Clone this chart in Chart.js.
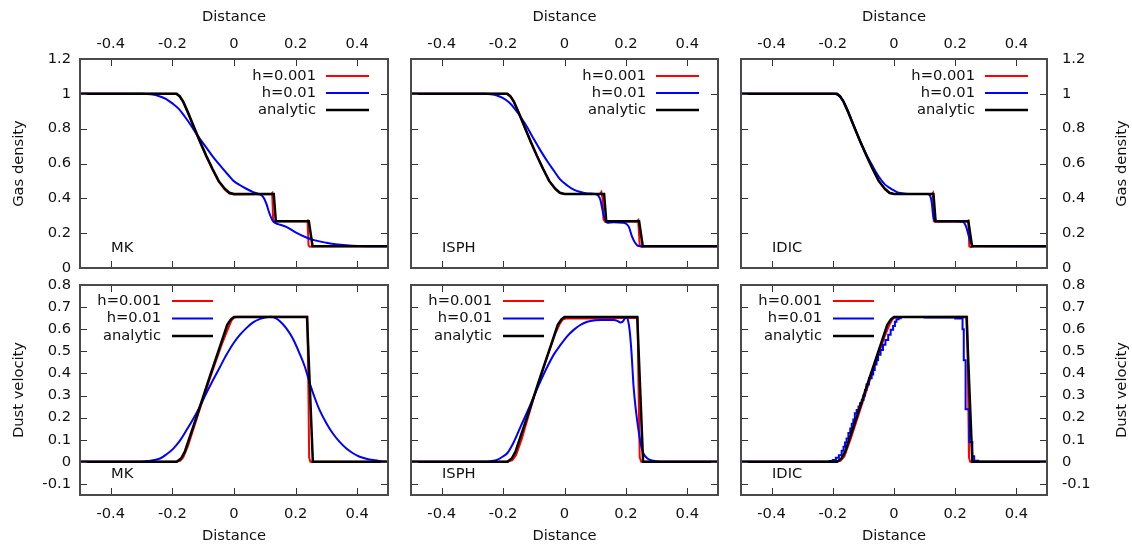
<!DOCTYPE html>
<html>
<head>
<meta charset="utf-8">
<script src="https://cdn.jsdelivr.net/npm/chart.js@4.4.1/dist/chart.umd.min.js"></script>
<style>
  body { margin: 0; background: #fff; overflow: hidden; width: 1132px; height: 545px; }
  canvas { position: absolute; }
</style>
</head>
<body>
<canvas id="p00" width="400" height="272" style="left:0;top:0"></canvas>
<canvas id="p01" width="330" height="272" style="left:400px;top:0"></canvas>
<canvas id="p02" width="402" height="272" style="left:730px;top:0"></canvas>
<canvas id="p10" width="400" height="273" style="left:0;top:272px"></canvas>
<canvas id="p11" width="330" height="273" style="left:400px;top:272px"></canvas>
<canvas id="p12" width="402" height="273" style="left:730px;top:272px"></canvas>
<script>
// tick labels
const xTicks = [-0.4, -0.2, 0, 0.2, 0.4];
const densTicks = [0, 0.2, 0.4, 0.6, 0.8, 1, 1.2];
const velTicks = [-0.1, 0, 0.1, 0.2, 0.3, 0.4, 0.5, 0.6, 0.7, 0.8];
const seriesNames = ['h=0.001', 'h=0.01', 'analytic'];
const methods = ['MK', 'ISPH', 'IDIC'];

// gas density - analytic
const densAnaX = [-0.5, -0.186, -0.176, -0.165, -0.15, -0.13, -0.11, -0.09, -0.07, -0.05, -0.03, -0.015, 0, 0.129, 0.136, 0.243, 0.255, 0.5];
const densAnaY = [1, 1, 0.985, 0.955, 0.895, 0.81, 0.725, 0.645, 0.57, 0.5, 0.455, 0.432, 0.425, 0.425, 0.268, 0.268, 0.125, 0.125];

// gas density - MK
const mkDensRedX = [-0.5, -0.19, -0.178, -0.165, -0.15, -0.13, -0.11, -0.09, -0.07, -0.05, -0.03, -0.015, 0, 0.121, 0.124, 0.127, 0.131, 0.236, 0.239, 0.242, 0.246, 0.26, 0.5];
const mkDensRedY = [1, 1, 0.99, 0.955, 0.895, 0.805, 0.72, 0.64, 0.565, 0.497, 0.45, 0.428, 0.422, 0.425, 0.43, 0.28, 0.268, 0.268, 0.272, 0.13, 0.122, 0.125, 0.125];
const mkDensBlueX = [-0.5, -0.3, -0.27, -0.24, -0.22, -0.2, -0.18, -0.16, -0.14, -0.122, -0.1, -0.08, -0.068, -0.04, -0.02, -0.003, 0.02, 0.04, 0.062, 0.08, 0.094, 0.105, 0.112, 0.118, 0.126, 0.135, 0.15, 0.17, 0.2, 0.235, 0.26, 0.3, 0.33, 0.365, 0.43, 0.5];
const mkDensBlueY = [1, 1, 0.997, 0.985, 0.97, 0.945, 0.915, 0.87, 0.82, 0.77, 0.716, 0.667, 0.638, 0.578, 0.537, 0.503, 0.475, 0.455, 0.436, 0.425, 0.41, 0.37, 0.33, 0.3, 0.27, 0.258, 0.248, 0.236, 0.205, 0.175, 0.16, 0.145, 0.136, 0.13, 0.125, 0.125];

// gas density - ISPH
const isDensRedX = [-0.5, -0.19, -0.178, -0.165, -0.15, -0.13, -0.11, -0.09, -0.07, -0.05, -0.03, -0.015, 0, 0.115, 0.12, 0.124, 0.127, 0.132, 0.236, 0.24, 0.245, 0.25, 0.26, 0.5];
const isDensRedY = [1, 1, 0.99, 0.955, 0.895, 0.81, 0.725, 0.645, 0.57, 0.5, 0.452, 0.43, 0.425, 0.425, 0.437, 0.4, 0.28, 0.265, 0.268, 0.275, 0.13, 0.122, 0.125, 0.125];
const isDensBlueX = [-0.5, -0.26, -0.24, -0.22, -0.2, -0.18, -0.16, -0.14, -0.121, -0.1, -0.078, -0.055, -0.035, -0.015, 0.009, 0.03, 0.052, 0.075, 0.1, 0.11, 0.117, 0.123, 0.128, 0.135, 0.139, 0.16, 0.19, 0.2, 0.21, 0.22, 0.23, 0.241, 0.26, 0.5];
const isDensBlueY = [1, 1, 0.997, 0.99, 0.975, 0.95, 0.91, 0.86, 0.807, 0.74, 0.674, 0.61, 0.56, 0.51, 0.474, 0.45, 0.436, 0.428, 0.425, 0.415, 0.39, 0.34, 0.3, 0.27, 0.26, 0.262, 0.26, 0.255, 0.235, 0.18, 0.145, 0.126, 0.125, 0.125];

// gas density - IDIC
const idDensRedX = [-0.5, -0.19, -0.178, -0.165, -0.15, -0.13, -0.11, -0.09, -0.07, -0.05, -0.03, -0.015, 0, 0.124, 0.127, 0.13, 0.134, 0.24, 0.243, 0.246, 0.25, 0.26, 0.5];
const idDensRedY = [1, 1, 0.99, 0.955, 0.895, 0.81, 0.725, 0.645, 0.57, 0.5, 0.452, 0.43, 0.425, 0.425, 0.432, 0.27, 0.265, 0.268, 0.272, 0.125, 0.12, 0.125, 0.125];
const idDensBlueX = [-0.5, -0.2, -0.185, -0.17, -0.155, -0.13, -0.11, -0.09, -0.07, -0.05, -0.03, -0.014, 0, 0.015, 0.03, 0.06, 0.11, 0.118, 0.123, 0.128, 0.133, 0.2, 0.225, 0.235, 0.245, 0.252, 0.26, 0.5];
const idDensBlueY = [1, 1, 0.995, 0.97, 0.92, 0.81, 0.725, 0.65, 0.585, 0.525, 0.48, 0.46, 0.445, 0.432, 0.428, 0.425, 0.425, 0.415, 0.38, 0.3, 0.27, 0.268, 0.265, 0.24, 0.18, 0.14, 0.127, 0.125];

// dust velocity - analytic
const velAnaX = [-0.5, -0.186, -0.172, -0.16, -0.12, -0.08, -0.04, -0.022, -0.01, 0, 0.237, 0.256, 0.5];
const velAnaY = [0, 0, 0.015, 0.045, 0.21, 0.38, 0.545, 0.62, 0.645, 0.655, 0.655, 0, 0];

// dust velocity - MK
const mkVelRedX = [-0.5, -0.19, -0.175, -0.165, -0.15, -0.12, -0.08, -0.04, -0.02, -0.008, 0, 0.01, 0.238, 0.241, 0.244, 0.248, 0.5];
const mkVelRedY = [0, 0, 0.005, 0.02, 0.07, 0.2, 0.37, 0.53, 0.6, 0.64, 0.652, 0.656, 0.656, 0.4, 0.02, 0, 0];
const mkVelBlueX = [-0.5, -0.32, -0.28, -0.24, -0.22, -0.197, -0.175, -0.154, -0.132, -0.111, -0.09, -0.068, -0.046, -0.025, 0, 0.019, 0.04, 0.062, 0.085, 0.105, 0.118, 0.135, 0.15, 0.17, 0.19, 0.213, 0.23, 0.246, 0.262, 0.278, 0.3, 0.321, 0.343, 0.365, 0.385, 0.408, 0.43, 0.451, 0.475, 0.5];
const mkVelBlueY = [0, 0, 0.004, 0.015, 0.033, 0.06, 0.097, 0.144, 0.195, 0.25, 0.31, 0.37, 0.428, 0.483, 0.54, 0.574, 0.605, 0.631, 0.647, 0.654, 0.656, 0.65, 0.635, 0.604, 0.56, 0.49, 0.43, 0.355, 0.29, 0.234, 0.175, 0.128, 0.09, 0.06, 0.04, 0.023, 0.014, 0.008, 0.003, 0];

// dust velocity - ISPH
const isVelRedX = [-0.5, -0.185, -0.17, -0.158, -0.14, -0.1, -0.06, -0.03, -0.015, -0.005, 0.005, 0.1, 0.238, 0.241, 0.245, 0.25, 0.5];
const isVelRedY = [0, 0, 0.008, 0.03, 0.1, 0.29, 0.46, 0.58, 0.625, 0.645, 0.648, 0.649, 0.652, 0.35, 0.02, 0, 0];
const isVelBlueX = [-0.5, -0.26, -0.24, -0.218, -0.2, -0.186, -0.165, -0.143, -0.12, -0.1, -0.078, -0.056, -0.035, -0.013, 0.01, 0.03, 0.05, 0.074, 0.1, 0.117, 0.16, 0.172, 0.182, 0.19, 0.197, 0.201, 0.206, 0.212, 0.218, 0.225, 0.232, 0.241, 0.25, 0.257, 0.27, 0.29, 0.31, 0.5];
const isVelBlueY = [0, 0, 0.003, 0.01, 0.025, 0.04, 0.09, 0.159, 0.23, 0.295, 0.365, 0.43, 0.485, 0.529, 0.57, 0.597, 0.618, 0.634, 0.641, 0.642, 0.642, 0.638, 0.63, 0.635, 0.65, 0.655, 0.645, 0.597, 0.5, 0.34, 0.24, 0.144, 0.07, 0.038, 0.015, 0.005, 0, 0];

// dust velocity - IDIC (h=0.01 drawn as steps)
const idVelRedX = [-0.5, -0.19, -0.175, -0.162, -0.14, -0.1, -0.06, -0.03, -0.015, -0.005, 0.005, 0.239, 0.242, 0.245, 0.249, 0.5];
const idVelRedY = [0, 0, 0.005, 0.025, 0.11, 0.28, 0.45, 0.57, 0.62, 0.645, 0.655, 0.656, 0.35, 0.02, 0, 0];
const idVelBlueX = [-0.5, -0.21, -0.2, -0.19, -0.18, -0.171, -0.165, -0.16, -0.155, -0.149, -0.143, -0.138, -0.133, -0.128, -0.122, -0.116, -0.111, -0.105, -0.1, -0.095, -0.09, -0.082, -0.073, -0.068, -0.063, -0.057, -0.052, -0.044, -0.036, -0.028, -0.019, -0.011, -0.003, 0.003, 0.008, 0.015, 0.022, 0.029, 0.1, 0.2, 0.224, 0.228, 0.234, 0.246, 0.256, 0.262, 0.275, 0.29, 0.5];
const idVelBlueY = [0, 0, 0.004, 0.008, 0.018, 0.03, 0.05, 0.068, 0.087, 0.106, 0.13, 0.151, 0.172, 0.192, 0.22, 0.235, 0.25, 0.265, 0.28, 0.3, 0.325, 0.35, 0.378, 0.395, 0.415, 0.44, 0.46, 0.485, 0.506, 0.53, 0.551, 0.575, 0.597, 0.615, 0.634, 0.645, 0.65, 0.655, 0.655, 0.653, 0.648, 0.6, 0.46, 0.238, 0.09, 0.025, 0.005, 0, 0];

const FONT_SIZE = 14.7;
Chart.defaults.font.family = "'DejaVu Sans', sans-serif";
Chart.defaults.font.size = FONT_SIZE;
Chart.defaults.color = '#111';

const pts = (xs, ys) => xs.map((x, i) => ({ x: x, y: ys[i] }));
const fmt = v => String(Math.round(v * 100) / 100);

// frame, inward ticks on all sides, legend, method label
const framePlugin = {
  id: 'frame',
  afterDatasetsDraw(chart, args, opts) {
    const { ctx, chartArea: a, scales } = chart;
    ctx.save();
    ctx.strokeStyle = '#333';
    ctx.lineWidth = 1;
    ctx.beginPath();
    xTicks.forEach(v => {
      const px = Math.round(scales.x.getPixelForValue(v)) + 0.5;
      ctx.moveTo(px, a.top); ctx.lineTo(px, a.top + 7);
      ctx.moveTo(px, a.bottom); ctx.lineTo(px, a.bottom - 7);
    });
    opts.yTicks.forEach(v => {
      const py = Math.round(scales.y.getPixelForValue(v)) + 0.5;
      ctx.moveTo(a.left, py); ctx.lineTo(a.left + 7, py);
      ctx.moveTo(a.right, py); ctx.lineTo(a.right - 7, py);
    });
    ctx.stroke();
    ctx.strokeStyle = '#4a4a4a';
    ctx.lineWidth = 2;
    ctx.strokeRect(a.left, a.top, a.right - a.left, a.bottom - a.top);

    // legend
    ctx.font = FONT_SIZE + "px 'DejaVu Sans'";
    ctx.fillStyle = '#111';
    ctx.textAlign = 'right';
    ctx.textBaseline = 'middle';
    chart.data.datasets.forEach((ds, i) => {
      let tx, x1, x2, y;
      if (opts.legend === 'right') {
        tx = a.right - 72; x1 = a.right - 62; x2 = a.right - 19; y = a.top + 17 + i * 17;
      } else {
        tx = a.left + 81; x1 = a.left + 92; x2 = a.left + 133; y = a.top + 16 + i * 17.5;
      }
      ctx.fillText(ds.label, tx, y);
      ctx.strokeStyle = ds.borderColor;
      ctx.lineWidth = ds.borderWidth;
      ctx.beginPath(); ctx.moveTo(x1, y); ctx.lineTo(x2, y); ctx.stroke();
    });

    // method name
    ctx.textAlign = 'left';
    ctx.fillText(opts.name, a.left + 31, a.bottom - opts.nameOffset);

    // right side axis title, reads bottom to top
    if (opts.rightTitle) {
      ctx.translate(scales.y.right - 10, (a.top + a.bottom) / 2);
      ctx.rotate(-Math.PI / 2);
      ctx.textAlign = 'center';
      ctx.fillText(opts.rightTitle, 0, 0);
    }
    ctx.restore();
  }
};

function panel(id, row, col, red, blue, ana, stepBlue) {
  const top = row === 0;
  const yTicks = top ? densTicks : velTicks;
  const yTitle = top ? 'Gas density' : 'Dust velocity';
  const pad = {
    top: top ? 0 : 13,
    bottom: top ? 4 : 0,
    left: col === 0 ? 0 : 11,
    right: col === 2 ? 0 : 12
  };
  const yWidth = [80, 0, 85][col];
  new Chart(document.getElementById(id), {
    type: 'line',
    data: {
      datasets: [
        { label: seriesNames[0], data: red, borderColor: '#ff0000', borderWidth: 2, order: 2 },
        { label: seriesNames[1], data: blue, borderColor: '#0000ff', borderWidth: 2, order: 1,
          stepped: stepBlue ? 'after' : false, cubicInterpolationMode: stepBlue ? 'default' : 'monotone' },
        { label: seriesNames[2], data: ana, borderColor: '#000000', borderWidth: 2.5, order: 0 }
      ]
    },
    options: {
      responsive: false,
      animation: false,
      devicePixelRatio: 1,
      layout: { padding: pad },
      elements: { point: { radius: 0 }, line: { tension: 0 } },
      plugins: {
        legend: { display: false },
        tooltip: { enabled: false },
        frame: {
          yTicks: yTicks,
          legend: top ? 'right' : 'left',
          name: methods[col],
          nameOffset: top ? 20 : 21,
          rightTitle: col === 2 ? yTitle : null
        }
      },
      scales: {
        x: {
          type: 'linear',
          position: top ? 'top' : 'bottom',
          min: -0.5,
          max: 0.5,
          afterBuildTicks: s => { s.ticks = xTicks.map(v => ({ value: v })); },
          afterFit: s => { s.height = top ? 59 : 50; s.paddingLeft = 0; s.paddingRight = 0; },
          grid: { display: false, drawTicks: false },
          border: { display: false },
          ticks: { padding: top ? 6.5 : 10, maxRotation: 0, autoSkip: false, callback: v => fmt(v) },
          title: { display: true, text: 'Distance', padding: top ? { top: 8.5, bottom: 0 } : { top: 0, bottom: 0 } }
        },
        y: {
          type: 'linear',
          display: col !== 1,
          position: col === 2 ? 'right' : 'left',
          min: top ? 0 : -0.15,
          max: top ? 1.2 : 0.8,
          afterBuildTicks: s => { s.ticks = yTicks.map(v => ({ value: v })); },
          afterFit: s => { s.width = yWidth; s.paddingTop = 0; s.paddingBottom = 0; },
          grid: { display: false, drawTicks: false },
          border: { display: false },
          ticks: { padding: col === 0 ? 9 : 15, autoSkip: false, callback: v => fmt(v) },
          title: { display: col === 0, text: yTitle, padding: { top: 10, bottom: 0 } }
        }
      }
    },
    plugins: [framePlugin]
  });
}

panel('p00', 0, 0, pts(mkDensRedX, mkDensRedY), pts(mkDensBlueX, mkDensBlueY), pts(densAnaX, densAnaY));
panel('p01', 0, 1, pts(isDensRedX, isDensRedY), pts(isDensBlueX, isDensBlueY), pts(densAnaX, densAnaY));
panel('p02', 0, 2, pts(idDensRedX, idDensRedY), pts(idDensBlueX, idDensBlueY), pts(densAnaX, densAnaY));
panel('p10', 1, 0, pts(mkVelRedX, mkVelRedY), pts(mkVelBlueX, mkVelBlueY), pts(velAnaX, velAnaY));
panel('p11', 1, 1, pts(isVelRedX, isVelRedY), pts(isVelBlueX, isVelBlueY), pts(velAnaX, velAnaY));
panel('p12', 1, 2, pts(idVelRedX, idVelRedY), pts(idVelBlueX, idVelBlueY), pts(velAnaX, velAnaY), true);
</script>
</body>
</html>
